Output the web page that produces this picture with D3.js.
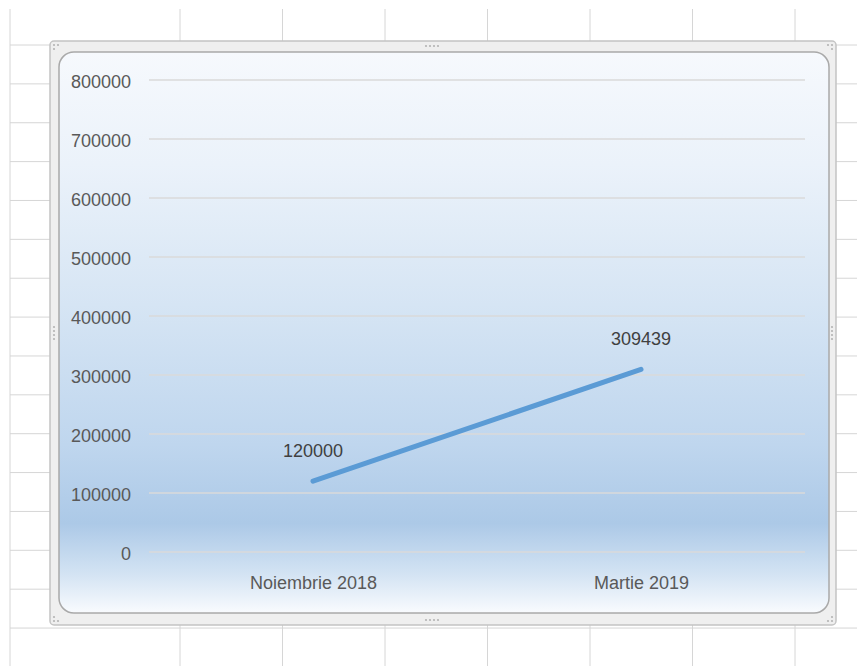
<!DOCTYPE html>
<html>
<head>
<meta charset="utf-8">
<script src="https://cdn.jsdelivr.net/npm/d3@7"></script>
<style>
  body { margin: 0; background: #fff; }
  svg { display: block; font-family: 'Liberation Sans', Arial, sans-serif; }
</style>
</head>
<body>
<svg id="chart" width="857" height="666"></svg>
<script>
const categories = ['Noiembrie 2018', 'Martie 2019']
const values = [120000, 309439]
const yTicks = [0, 100000, 200000, 300000, 400000, 500000, 600000, 700000, 800000]

const width = 857
const height = 666

// plot area inside the chart frame
const plotLeft = 149
const plotRight = 805
const plotTop = 80
const plotBottom = 552

const svg = d3.select('#chart')

// spreadsheet grid behind the chart
const sheet = svg.append('g').attr('stroke', '#d6d6d6').attr('stroke-width', 1)
const colLines = [10, 180, 282.5, 385, 487.5, 590, 692.5, 795]
colLines.forEach((x) => {
  sheet.append('line').attr('x1', x).attr('x2', x).attr('y1', 9).attr('y2', height)
})
for (let y = 45; y < height; y += 38.87) {
  sheet.append('line').attr('x1', 10).attr('x2', width).attr('y1', y).attr('y2', y)
}

// gradient fill used by Excel's chart area
const defs = svg.append('defs')
const grad = defs.append('linearGradient')
  .attr('id', 'bg').attr('x1', 0).attr('x2', 0).attr('y1', 0).attr('y2', 1)
const stops = [
  [0, '#f6f9fd'],
  [0.2, '#ebf2fa'],
  [0.45, '#d6e5f4'],
  [0.7, '#bfd6ee'],
  [0.84, '#acc9e7'],
  [0.93, '#d3e3f3'],
  [1, '#f9fbfe'],
]
stops.forEach(([o, c]) => grad.append('stop').attr('offset', o).attr('stop-color', c))

// selection frame
svg.append('rect')
  .attr('x', 50).attr('y', 41).attr('width', 786).attr('height', 584)
  .attr('rx', 4)
  .attr('fill', '#efefef')
  .attr('stroke', '#c4c4c4')
  .attr('stroke-width', 1.5)

// handle dots
const handle = svg.append('g').attr('fill', '#b4b4b4')
const dots = [
  [54, 45], [58, 45], [54, 49],
  [832, 45], [828, 45], [832, 49],
  [54, 621], [58, 621], [54, 617],
  [832, 621], [828, 621], [832, 617],
]
dots.forEach(([x, y]) => handle.append('circle').attr('cx', x).attr('cy', y).attr('r', 1.1))
;[426, 430, 434, 438].forEach((x) => {
  handle.append('circle').attr('cx', x).attr('cy', 46).attr('r', 1.1)
  handle.append('circle').attr('cx', x).attr('cy', 620).attr('r', 1.1)
})
;[327, 331, 335, 339].forEach((y) => {
  handle.append('circle').attr('cx', 54).attr('cy', y).attr('r', 1.1)
  handle.append('circle').attr('cx', 832).attr('cy', y).attr('r', 1.1)
})

// chart area
svg.append('rect')
  .attr('x', 59).attr('y', 52).attr('width', 770).attr('height', 561)
  .attr('rx', 15)
  .attr('fill', 'url(#bg)')
  .attr('stroke', '#a9a9a9')
  .attr('stroke-width', 1.5)

const x = d3.scalePoint().domain(categories).range([plotLeft, plotRight]).padding(0.5)
const y = d3.scaleLinear().domain([0, 800000]).range([plotBottom, plotTop])

// horizontal gridlines
svg.append('g')
  .selectAll('line')
  .data(yTicks)
  .join('line')
  .attr('x1', plotLeft)
  .attr('x2', plotRight)
  .attr('y1', (d) => y(d))
  .attr('y2', (d) => y(d))
  .attr('stroke', '#dadada')
  .attr('stroke-width', 1.5)

// y axis labels
const yAxis = svg.append('g')
  .attr('transform', `translate(${plotLeft - 18},0)`)
  .call(d3.axisLeft(y).tickValues(yTicks).tickSize(0).tickPadding(0).tickFormat(d3.format('d')))
yAxis.select('.domain').remove()
yAxis.selectAll('text')
  .attr('fill', '#595959')
  .attr('font-size', 18)
  .attr('font-family', "'Liberation Sans', Arial, sans-serif")
  .attr('dy', '0.42em')

// x axis labels
const xAxis = svg.append('g')
  .attr('transform', `translate(0,${plotBottom})`)
  .call(d3.axisBottom(x).tickSize(0).tickPadding(0))
xAxis.select('.domain').remove()
xAxis.selectAll('text')
  .attr('fill', '#595959')
  .attr('font-size', 18)
  .attr('font-family', "'Liberation Sans', Arial, sans-serif")
  .attr('dy', null)
  .attr('y', 37)

// series line
const points = categories.map((c, i) => [c, values[i]])
svg.append('path')
  .datum(points)
  .attr('fill', 'none')
  .attr('stroke', '#5b9bd5')
  .attr('stroke-width', 5)
  .attr('stroke-linecap', 'round')
  .attr('d', d3.line().x((d) => x(d[0])).y((d) => y(d[1])))

// data labels
svg.append('g')
  .selectAll('text')
  .data(points)
  .join('text')
  .attr('x', (d) => x(d[0]))
  .attr('y', (d) => y(d[1]) - 24)
  .attr('text-anchor', 'middle')
  .attr('fill', '#404040')
  .attr('font-size', 18)
  .text((d) => d[1])
</script>
</body>
</html>
